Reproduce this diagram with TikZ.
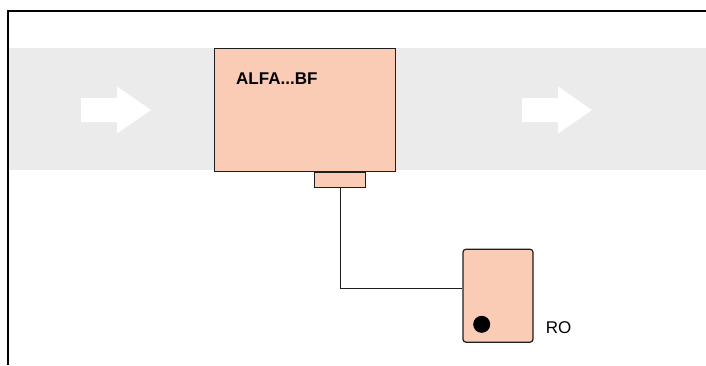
\documentclass[tikz,border=0pt]{standalone}
\usepackage{fontspec}
\setmainfont{Liberation Sans}
\usepackage{xcolor}
\usepackage{tikz}
\usetikzlibrary{positioning, calc}
\definecolor{dgSalmon}{HTML}{FACBB5}
\definecolor{dgBand}{HTML}{EBEBEB}
\definecolor{dgLine}{HTML}{1E1E1E}

\begin{document}
\begin{tikzpicture}[
  x=1pt, y=-1pt,
  %% --- Node styles ---
  unitbox/.style={
    rectangle, draw=dgLine, fill=dgSalmon, line width=1.2pt,
    inner sep=0pt
  },
  portbox/.style={
    rectangle, draw=dgLine, fill=dgSalmon, line width=1.2pt,
    minimum width=51pt, minimum height=15pt, inner sep=0pt
  },
  devbox/.style={
    rectangle, rounded corners=3pt, draw=dgLine, fill=dgSalmon,
    line width=1.2pt, minimum width=70pt, minimum height=93pt, inner sep=0pt
  },
  lamp/.style={circle, fill=black, minimum size=17pt, inner sep=0pt},
  tag/.style={font=\fontsize{17}{20}\selectfont, inner sep=0pt},
  %% --- Line styles ---
  frame/.style={line width=2pt, draw=black},
  wire/.style={line width=0.9pt, draw=dgLine},
  %% --- Flow arrow in the band ---
  flowarrow/.pic={
    \fill[white] (0,-12) -- (36,-12) -- (36,-23.5) -- (70,0)
      -- (36,23.5) -- (36,12) -- (0,12) -- cycle;
  }
]
\useasboundingbox (0,0) rectangle (706,365);

%% =========================================================
%% BACKGROUND — band and frame
%% =========================================================
\fill[dgBand] (8,48) rectangle (706,170);
\draw[frame] (8,365) -- (8,11) -- (706,11);

\pic (flowA) at (81,110) {flowarrow};
\pic (flowB) at (522,110) {flowarrow};

%% =========================================================
%% NODES
%% =========================================================
\node (sys)  [unitbox, minimum width=181pt, minimum height=123pt, anchor=north west]
      at (214,48) {};
\node (sysname) [tag, font=\fontsize{17}{20}\selectfont\bfseries, anchor=base west]
      at ($(sys.north west)+(22,36)$) {ALFA...BF};
\node (port) [portbox, below=0pt of sys.south, xshift=35pt] {};

\node (ro)   [devbox] at (498,295.7) {};
\node (rolamp) [lamp] at (481.7,324.3) {};
\node (roname) [tag, anchor=base west] at ($(ro.south east)+(12,-9.5)$) {RO};

%% =========================================================
%% CONNECTOR
%% =========================================================
\draw[wire] (port.south) |- ([yshift=7.5pt]ro.west);

\end{tikzpicture}
\end{document}
